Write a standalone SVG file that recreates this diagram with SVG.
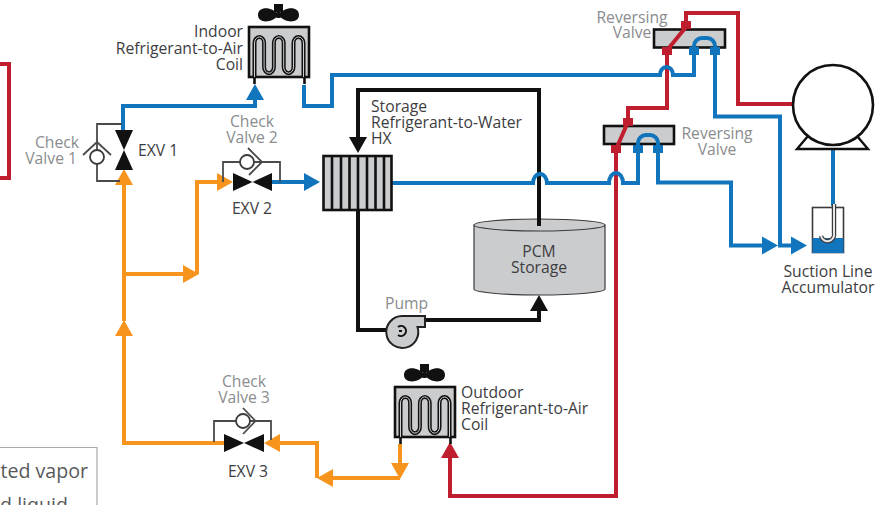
<svg xmlns="http://www.w3.org/2000/svg" xmlns:xlink="http://www.w3.org/1999/xlink" width="876" height="505" viewBox="0 0 876 505">
<style>
text{font-family:"Open Sans","Noto Sans","Liberation Sans",sans-serif;font-size:15.7px;fill:#3d3d3f}
.g{fill:#8a8c8e}
.leg{font-size:19.6px;fill:#58595b}
.m{text-anchor:middle}
.e{text-anchor:end}
.c{fill:none;stroke-linejoin:miter}
.bl{stroke:#1075bc;stroke-width:4}
.rd{stroke:#be1e2d;stroke-width:4}
.or{stroke:#f7941d;stroke-width:4}
.bk{stroke:#111;stroke-width:4}
.box{fill:#cbccce;stroke:#111;stroke-width:2.6}
.thin{fill:none;stroke:#4a4a4c;stroke-width:1.8}
.cv{fill:#fff;stroke:#3a3a3c;stroke-width:1.8}
.tube1{fill:none;stroke:#111;stroke-width:4}
.tube2{fill:none;stroke:#cbccce;stroke-width:1}
.sqr{fill:#be1e2d}
.sqb{fill:#1075bc}
</style>
<defs>
<marker id="ab" markerUnits="userSpaceOnUse" markerWidth="18" markerHeight="20" refX="0" refY="10" orient="auto" viewBox="0 0 18 20"><path d="M0 1L16 10L0 19Z" fill="#1075bc"/></marker>
<marker id="ar" markerUnits="userSpaceOnUse" markerWidth="18" markerHeight="20" refX="0" refY="10" orient="auto" viewBox="0 0 18 20"><path d="M0 1L16 10L0 19Z" fill="#be1e2d"/></marker>
<marker id="ao" markerUnits="userSpaceOnUse" markerWidth="18" markerHeight="20" refX="0" refY="10" orient="auto" viewBox="0 0 18 20"><path d="M0 1L16 10L0 19Z" fill="#f7941d"/></marker>
<marker id="ak" markerUnits="userSpaceOnUse" markerWidth="18" markerHeight="20" refX="0" refY="10" orient="auto" viewBox="0 0 18 20"><path d="M0 1L16 10L0 19Z" fill="#111"/></marker>
<g id="coil">
<rect class="box" x="0" y="0" width="60" height="50"/>
<path class="tube1" d="M5.500 50V16a4.800 6 0 0 1 9.600 0V40a4.800 6 0 0 0 9.800 0V16a4.800 6 0 0 1 9.800 0V40a4.800 6 0 0 0 9.800 0V16a5 6 0 0 1 10 0V50"/>
<path class="tube2" d="M5.500 50V16a4.800 6 0 0 1 9.600 0V40a4.800 6 0 0 0 9.800 0V16a4.800 6 0 0 1 9.800 0V40a4.800 6 0 0 0 9.800 0V16a5 6 0 0 1 10 0V50"/>
<path d="M5.500 50v7M55.500 50v7" stroke="#111" stroke-width="2.600" fill="none"/>
<rect x="25" y="-23" width="9" height="8" fill="#111"/>
<path d="M29.500 -12C24 -20.500 9 -21.500 9 -12C9 -3 24 -4 29.500 -12C35 -4 50 -3 50 -12C50 -21.500 35 -20.500 29.500 -12Z" fill="#111"/>
<path d="M29.500 -16v7" stroke="#111" stroke-width="4"/>
</g>
</defs>

<g id="connectors">
<path class="c rd" d="M0 64H9V178H0"/>
<path class="c bk" d="M539 225V90H358V137" marker-end="url(#ak)"/>
<path class="c bk" d="M358 210V330H387"/>
<path class="c bk" d="M423 320H539V311" marker-end="url(#ak)"/>
<path class="c rd" d="M616 150V496H450V458" marker-end="url(#ar)"/>
<path class="c rd" d="M667 50V108H628V120"/>
<path class="c rd" d="M686 25V13H738V104H794"/>

<path class="c bl" d="M123 132V106H255V100" marker-end="url(#ab)"/>
<path class="c bl" d="M304 85V106H332V75H660A6.500 8 0 0 1 673 75H694V50"/>
<path class="c bl" d="M715 46V116.500H780V245.500H791" marker-end="url(#ab)"/>
<path class="c bl" d="M658 150V182.500H731V245.500H762" marker-end="url(#ab)"/>
<path class="c bl" d="M272 182H304" marker-end="url(#ab)"/>
<path class="c bl" d="M392 183H533A7 9 0 0 1 547 183H609A7 10 0 0 1 623 183H638V150"/>
<path class="c bl" d="M833 150V206"/>

<path class="c or" d="M224 443H124V336" marker-end="url(#ao)"/>
<path class="c or" d="M124 321V185" marker-end="url(#ao)"/>
<path class="c or" d="M124 274H183" marker-end="url(#ao)"/>
<path class="c or" d="M197 274V182H217" marker-end="url(#ao)"/>
<path class="c or" d="M400 444V463" marker-end="url(#ao)"/>
<path class="c or" d="M400 478H333" marker-end="url(#ao)"/>
<path class="c or" d="M317 478V443H280" marker-end="url(#ao)"/>
</g>

<g id="indoor-coil">
<use href="#coil" x="249" y="27"/>
<text class="e" x="243" y="37">Indoor</text>
<text class="e" x="243" y="54">Refrigerant-to-Air</text>
<text class="e" x="243" y="70">Coil</text>
</g>

<g id="outdoor-coil">
<use href="#coil" x="395" y="387"/>
<text x="461" y="398">Outdoor</text>
<text x="461" y="414">Refrigerant-to-Air</text>
<text x="461" y="430">Coil</text>
</g>

<g id="exv1">
<path class="thin" d="M122 124H97V181H120"/>
<circle class="cv" cx="97" cy="157" r="7"/>
<path class="thin" d="M83 155L97 142L111 155"/>
<path d="M115 130H133L124 150L133 170H115L124 150Z" fill="#111"/>
<text class="g e" x="79" y="148">Check</text>
<text class="g e" x="77" y="164">Valve 1</text>
<text x="138" y="156">EXV 1</text>
</g>

<g id="exv2">
<path class="thin" d="M223 182V162H280V182"/>
<circle class="cv" cx="247" cy="162" r="7"/>
<path class="thin" d="M248 148L262 162L249 175"/>
<path d="M233 173V191L252.500 182L272 191V173L252.500 182Z" fill="#111"/>
<text class="g m" x="252" y="127">Check</text>
<text class="g m" x="252" y="143">Valve 2</text>
<text class="m" x="252" y="214">EXV 2</text>
</g>

<g id="exv3">
<path class="thin" d="M214 442V421H271V440"/>
<circle class="cv" cx="243" cy="421" r="7"/>
<path class="thin" d="M243 408L255.500 421L243 434"/>
<path d="M224 434V452L244 443L264 452V434L244 443Z" fill="#111"/>
<text class="g m" x="244" y="387">Check</text>
<text class="g m" x="244" y="403">Valve 3</text>
<text class="m" x="248" y="477">EXV 3</text>
</g>

<g id="storage-hx">
<rect class="box" x="323.500" y="156" width="68" height="54"/>
<path d="M332 156V210M341 156V210M349.500 156V210M358 156V210M367 156V210M375.500 156V210M384 156V210" stroke="#111" stroke-width="2.600" fill="none"/>
<text x="371" y="112">Storage</text>
<text x="371" y="128">Refrigerant-to-Water</text>
<text x="371" y="144">HX</text>
</g>

<g id="pcm-storage">
<path d="M474 225A65.500 6 0 0 1 605 225V289A65.500 6 0 0 1 474 289Z" fill="#cbccce" stroke="#3a3a3c" stroke-width="1.200"/>
<path d="M474 225A65.500 6 0 0 0 605 225" fill="none" stroke="#3a3a3c" stroke-width="1.200"/>
<path d="M539 210V226" stroke="#111" stroke-width="4" fill="none"/>
<text class="m" x="539" y="257">PCM</text>
<text class="m" x="539" y="273">Storage</text>
</g>

<g id="pump">
<path d="M402 316H425V327H417.500A16 16 0 1 1 402 316Z" fill="#cbccce" stroke="#222" stroke-width="2"/>
<path d="M398 327A5 5 0 1 1 398 335M399 331H402" fill="none" stroke="#111" stroke-width="2"/>
<text class="g" x="385" y="309">Pump</text>
</g>

<g id="reversing-valve-1">
<rect class="box" x="654" y="29.500" width="71" height="18"/>
<rect class="sqr" x="681" y="21" width="10" height="8"/>
<rect class="sqr" x="662" y="47" width="10" height="8"/>
<rect class="sqb" x="689" y="47" width="10" height="8"/>
<rect class="sqb" x="710" y="47" width="10" height="8"/>
<path class="c rd" d="M686 27L668 49"/>
<path class="c bl" d="M694 50V46A8 8 0 0 1 702 38H707A8 8 0 0 1 715 46V50"/>
<text class="g m" x="632" y="23">Reversing</text>
<text class="g m" x="632" y="38">Valve</text>
</g>

<g id="reversing-valve-2">
<rect class="box" x="604" y="126" width="70" height="18"/>
<rect class="sqr" x="623" y="118" width="10" height="8"/>
<rect class="sqr" x="611" y="145" width="10" height="8"/>
<rect class="sqb" x="633" y="145" width="10" height="8"/>
<rect class="sqb" x="653" y="145" width="10" height="8"/>
<path class="c rd" d="M628 122L617 147"/>
<path class="c bl" d="M638 148V143A8 8 0 0 1 646 135H650A8 8 0 0 1 658 143V148"/>
<text class="g m" x="717" y="139">Reversing</text>
<text class="g m" x="717" y="155">Valve</text>
</g>

<g id="compressor">
<path d="M808 136L797 149H868L857 136" fill="#fff" stroke="#111" stroke-width="2.400"/>
<circle cx="833" cy="105" r="40" fill="#fff" stroke="#111" stroke-width="2.600"/>
</g>

<g id="accumulator">
<rect x="812.500" y="207.500" width="31" height="45" fill="#fff" stroke="#3a3a3c" stroke-width="1.600"/>
<rect x="812.500" y="238" width="31" height="15" fill="#1075bc"/>
<path d="M834 204V233A6.500 6.500 0 0 1 821 236" fill="none" stroke="#3a3a3c" stroke-width="4.400"/>
<path d="M834 204V233A6.500 6.500 0 0 1 821 236" fill="none" stroke="#e6e6e7" stroke-width="2"/>
<text class="m" x="828" y="277">Suction Line</text>
<text class="m" x="828" y="293">Accumulator</text>
</g>

<g id="legend">
<path d="M0 447.500H97V505" fill="none" stroke="#a7a9ac" stroke-width="1.200"/>
<text class="leg e" x="88" y="478">ted vapor</text>
<text class="leg e" x="68" y="512">d liquid</text>
</g>
</svg>
